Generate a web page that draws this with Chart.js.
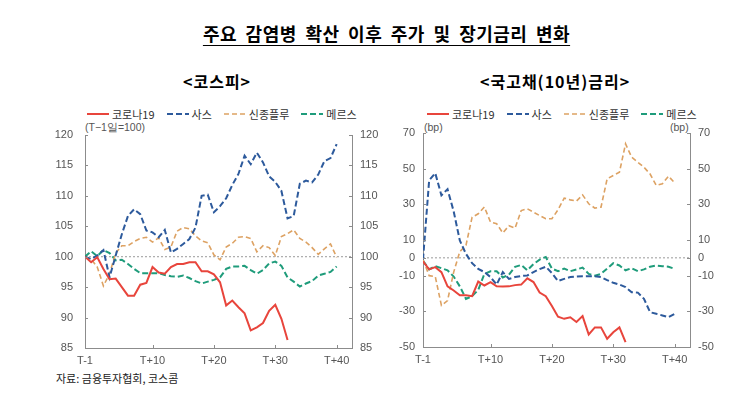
<!DOCTYPE html>
<html><head><meta charset="utf-8">
<script src="https://cdn.jsdelivr.net/npm/chart.js@4"></script>
<style>
body{margin:0;width:755px;height:399px;background:#fff;position:relative;overflow:hidden;font-family:"Noto Sans CJK KR","Noto Sans",sans-serif;color:#000;}
.abs{position:absolute;white-space:nowrap;}
#title{left:150px;width:473px;top:21px;text-align:center;font-size:18px;font-weight:bold;line-height:24px;letter-spacing:0.5px;word-spacing:4px;}
#title span{text-decoration:underline;text-underline-offset:4px;text-decoration-thickness:1px;}
.sub{font-size:16px;font-weight:bold;top:70px;line-height:22px;letter-spacing:1px;}
.legend{display:flex;align-items:center;font-size:11px;color:#333;top:106px;line-height:16px;}
.legend .item{display:flex;align-items:center;margin-right:12px;}
.legend svg{margin-right:3px;}
.unit{font-family:"Liberation Sans",Arial,sans-serif;font-size:10.5px;color:#555;top:120px;line-height:14px;}
#src{left:56px;top:370px;font-size:11px;color:#222;line-height:16px;}
canvas{position:absolute;}
</style></head>
<body>
<div id="title" class="abs"><span>주요 감염병 확산 이후 주가 및 장기금리 변화</span></div>
<div class="abs sub" style="left:183px;">&lt;코스피&gt;</div>
<div class="abs sub" style="left:480px;">&lt;국고채(10년)금리&gt;</div>
<div id="legL" class="abs legend" style="left:87px;"></div>
<div id="legR" class="abs legend" style="left:427px;"></div>
<div class="abs unit" style="left:85px;">(T−1일=100)</div>
<div class="abs unit" style="left:424px;">(bp)</div>
<div class="abs unit" style="left:670px;">(bp)</div>
<div id="src" class="abs">자료: 금융투자협회, 코스콤</div>
<div style="position:absolute;left:0;top:100px;width:385px;height:270px;"><canvas id="c1" width="385" height="270"></canvas></div>
<div style="position:absolute;left:380px;top:100px;width:345px;height:269px;"><canvas id="c2" width="345" height="269"></canvas></div>
<script>
// ---- categories ----
const days = [-1,0,1,2,3,4,5,6,7,8,9,10,11,12,13,14,15,16,17,18,19,20,21,22,23,24,25,26,27,28,29,30,31,32,33,34,35,36,37,38,39,40];
const seriesNames = ['코로나19','사스','신종플루','메르스'];
const xTickDays = [-1,10,20,30,40];
const xTickLabels = ['T-1','T+10','T+20','T+30','T+40'];
const kospiTicks = [85,90,95,100,105,110,115,120];
const bondTicks = [-50,-30,-10,0,10,30,50,70];

// ---- KOSPI (T-1 = 100) ----
const kospiCorona = [100,99.1,99.9,98.0,96.3,96.4,95.0,93.6,93.6,95.4,95.7,98.3,97.4,97.2,98.3,98.8,98.8,99.1,99.1,97.6,97.6,97.1,95.8,92.0,92.8,91.7,90.7,87.9,88.4,89.1,91.1,92.1,89.8,86.3];
const kospiSars = [100,99.6,100.2,101.1,96.6,100.2,103.7,106.7,107.8,107.0,104.3,104.0,103.2,104.4,100.7,101.3,102.1,102.9,104.8,110.0,110.2,107.3,108.3,109.6,111.8,113.6,116.6,115.2,117.1,115.5,113.2,112.3,110.8,106.3,106.7,112.0,112.5,112.2,113.5,115.7,116.2,118.5];
const kospiFlu = [100,99.6,98.3,95.2,97.2,100.6,101.8,101.8,102.5,103.0,103.2,102.4,103.1,101.2,101.6,104.2,104.8,104.6,103.4,102.6,102.3,100.3,99.5,101.6,102.2,103.2,103.3,103.0,100.8,101.8,101.5,100.2,103.3,103.8,104.4,103.0,102.4,101.5,100.4,101.3,102.1,99.9];
const kospiMers = [100,100.9,100.1,101.1,100.6,99.4,99.5,98.8,98.0,97.3,97.3,97.3,97.3,97.0,96.8,96.7,96.9,96.5,96.0,95.6,95.9,96.2,96.6,98.0,98.4,98.4,98.5,97.8,97.2,97.8,98.9,99.2,98.5,96.6,95.9,95.1,95.6,96.0,96.9,97.2,97.5,98.4];

// ---- 10y treasury yield change (bp) ----
const bondCorona = [-2,-6.5,-5.2,-8,-16,-18.3,-21,-21,-21.5,-13.3,-15.5,-13.6,-16,-16.1,-16,-15.3,-15,-11.5,-13.6,-19.5,-21.5,-27,-33,-34.2,-33.3,-36,-32.7,-43,-39,-39,-45.4,-41.7,-39,-47.3];
const bondSars = [-1,43.4,47.5,35,38.5,26,9.7,2.2,-3,-6.2,-8,-10.8,-15,-8,-11.8,-10.8,-10.2,-9.9,-8,-6.3,-5,-8.5,-13,-11.8,-10.8,-10.5,-10.3,-10.3,-10.3,-10.8,-12.5,-14,-15,-16.4,-19.3,-19.5,-23,-30.5,-31.4,-32.3,-33.3,-31.4];
const bondFlu = [-1,-10,-10.5,-26.7,-24,-8,3.5,7,22.8,24.7,28.5,20,19.1,14,18,16.6,26.5,27.5,25.6,23.7,21.9,21.9,27,33.5,32.5,31.8,35.3,30.3,27.9,28.4,44.3,46.2,48,63.9,56.4,53.6,50.8,47,40.6,41.5,45.8,42];
const bondMers = [-1.5,-6.5,-4.7,-5.8,-7,-10.5,-16,-23,-21.5,-18,-9,-7.5,-7.5,-11,-9.5,-5,-4,-7,-3.5,-1,0.5,-6,-7.5,-6,-7.5,-6.5,-5.5,-9,-10,-9,-6,-3,-4.3,-7,-5.8,-7.5,-6.5,-5,-4.3,-4.7,-5,-6.2];

// ---- styles ----
const colors = ['#E8453C','#2D5A9C','#DDA263','#1F9C7B'];
const dashes = [[],[6,3],[5,3],[6,3]];
const widths = [2,2,1.6,2];

function pts(arr){ return arr.map((v,i)=>({x:days[i],y:v})); }

function buildLegend(id){
  const el=document.getElementById(id);
  seriesNames.forEach((n,i)=>{
    const it=document.createElement('div'); it.className='item';
    it.innerHTML='<svg width="22" height="6"><line x1="0" y1="3" x2="22" y2="3" stroke="'+colors[i]+'" stroke-width="'+widths[i]+'" stroke-dasharray="'+(dashes[i].length?dashes[i].join(','):'none')+'"/></svg><span>'+n+'</span>';
    el.appendChild(it);
  });
}
buildLegend('legL'); buildLegend('legR');

const axisColor='#8c8c8c';
const innerTicks = {
  id:'innerTicks',
  afterDraw(chart){
    const {ctx, chartArea:a, scales} = chart;
    ctx.save(); ctx.strokeStyle=axisColor; ctx.lineWidth=1; ctx.beginPath();
    ['y','y2'].forEach(id=>{
      const s=scales[id];
      s.ticks.forEach(t=>{
        const py=Math.round(s.getPixelForValue(t.value))+0.5;
        if(id==='y'){ctx.moveTo(a.left,py);ctx.lineTo(a.left+3,py);}
        else {ctx.moveTo(a.right,py);ctx.lineTo(a.right-3,py);}
      });
    });
    const sx=scales.x;
    sx.ticks.forEach(t=>{
      const px=Math.round(sx.getPixelForValue(t.value))+0.5;
      ctx.moveTo(px,a.bottom); ctx.lineTo(px,a.bottom-3);
    });
    ctx.stroke(); ctx.restore();
  }
};

function makeChart(canvasId, series, refVal, yMin, yMax, yTicks, dims){
  const ds = series.map((arr,i)=>({
    label:seriesNames[i], data:pts(arr), borderColor:colors[i], borderDash:dashes[i],
    borderWidth:widths[i], pointRadius:0, tension:0, fill:false, yAxisID:'y'
  }));
  ds.push({label:'ref', data:[{x:-1,y:refVal},{x:42.5,y:refVal}], borderColor:'#9a9a9a', borderDash:[2,2], borderWidth:1, pointRadius:0, yAxisID:'y'});
  const tickFont={family:'"Liberation Sans", Arial, sans-serif', size:11};
  const yCommon = (pos, w, pad)=>({
    type:'linear', position:pos, min:yMin, max:yMax,
    afterBuildTicks:s=>{ s.ticks = yTicks.map(v=>({value:v})); },
    afterFit:s=>{ s.width=w; s.paddingTop=0; s.paddingBottom=0; },
    grid:{display:false, drawTicks:false},
    border:{display:true, color:axisColor, width:1},
    ticks:{font:tickFont, color:'#555', padding:pad, autoSkip:false}
  });
  return new Chart(document.getElementById(canvasId), {
    type:'line',
    data:{datasets:ds},
    options:{
      responsive:false, animation:false, devicePixelRatio:1,
      layout:{padding:{top:dims.top, left:0, right:0, bottom:0}},
      plugins:{legend:{display:false}, tooltip:{enabled:false}},
      scales:{
        x:{type:'linear', min:-1, max:42.5,
          afterBuildTicks:s=>{ s.ticks = xTickDays.map(v=>({value:v})); },
          afterFit:s=>{ s.height=22; s.paddingLeft=0; s.paddingRight=0; },
          grid:{display:false, drawTicks:false},
          border:{display:true, color:axisColor, width:1},
          ticks:{font:tickFont, color:'#555', padding:6, autoSkip:false, maxRotation:0,
            callback:(v)=>{ const k=xTickDays.indexOf(v); return k>=0?xTickLabels[k]:''; }}
        },
        y:yCommon('left', dims.lw, dims.lpad),
        y2:yCommon('right', dims.rw, dims.rpad)
      }
    },
    plugins:[innerTicks]
  });
}

makeChart('c1',[kospiCorona,kospiSars,kospiFlu,kospiMers],100,85,120,kospiTicks,{top:35,lw:85,lpad:12,rw:33,rpad:8});
makeChart('c2',[bondCorona,bondSars,bondFlu,bondMers],0,-50,70,bondTicks,{top:33,lw:43,lpad:8,rw:35,rpad:8});
</script>
</body></html>
